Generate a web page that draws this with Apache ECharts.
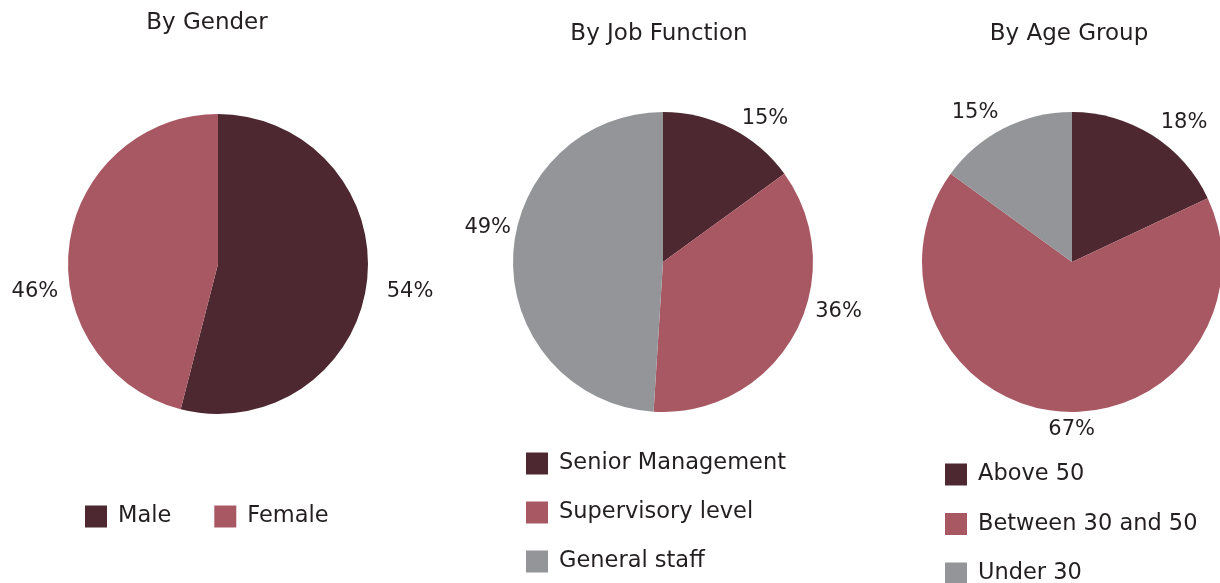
<!DOCTYPE html>
<html>
<head>
<meta charset="utf-8">
<script src="https://cdn.jsdelivr.net/npm/echarts@6/dist/echarts.min.js"></script>
<style>
  html, body { margin: 0; padding: 0; background: #ffffff; }
  #chart { width: 1220px; height: 583px; }
</style>
</head>
<body>
<div id="chart"></div>
<script>
const genderNames = ['Male', 'Female']
const genderValues = [54, 46]

const jobNames = ['Senior Management', 'Supervisory level', 'General staff']
const jobValues = [15, 36, 49]

const ageNames = ['Above 50', 'Between 30 and 50', 'Under 30']
const ageValues = [18, 67, 15]

const colors = ['#4e2830', '#a85862', '#939598']
const font = 'DejaVu Sans'
const textColor = '#231f20'

const chart = echarts.init(document.getElementById('chart'))

const toData = (names, values) => names.map((n, i) => ({
  name: n,
  value: values[i],
  itemStyle: { color: colors[i] }
}))

// small nudges so the percent labels sit where the original put them
const pieSeries = (name, names, values, center, nudges) => ({
  name: name,
  type: 'pie',
  radius: 150,
  center: center,
  startAngle: 90,
  clockwise: true,
  data: toData(names, values),
  label: {
    show: true,
    position: 'outside',
    formatter: '{c}%',
    color: textColor,
    fontFamily: font,
    fontSize: 21,
    overflow: 'none',
    distanceToLabelLine: 5
  },
  labelLine: {
    show: false,
    length: 10,
    length2: 0
  },
  labelLayout: function (params) {
    const n = nudges[params.dataIndex] || [0, 0]
    return { dx: n[0], dy: n[1] }
  },
  itemStyle: { borderWidth: 0 },
  emphasis: { disabled: true },
  animation: false
})

const legendText = {
  color: textColor,
  fontFamily: font,
  fontSize: 22.5,
  lineHeight: 22,
  padding: [0, 0, 0, 6]
}

const titleText = { color: textColor, fontFamily: font, fontSize: 23, fontWeight: 'normal' }

const option = {
  backgroundColor: '#ffffff',
  title: [
    { text: 'By Gender', left: 207, top: 12, textAlign: 'center', padding: 0, textStyle: titleText },
    { text: 'By Job Function', left: 659, top: 23, textAlign: 'center', padding: 0, textStyle: titleText },
    { text: 'By Age Group', left: 1069, top: 23, textAlign: 'center', padding: 0, textStyle: titleText }
  ],
  legend: [
    {
      data: genderNames, orient: 'horizontal', left: 85, top: 505, padding: 0,
      itemWidth: 22, itemHeight: 22, itemGap: 43, icon: 'rect',
      textStyle: legendText, selectedMode: false
    },
    {
      data: jobNames, orient: 'vertical', left: 526, top: 452, padding: 0, height: 130,
      itemWidth: 22, itemHeight: 22, itemGap: 26, icon: 'rect',
      textStyle: legendText, selectedMode: false
    },
    {
      data: ageNames, orient: 'vertical', left: 945, top: 463, padding: 0, height: 130,
      itemWidth: 22, itemHeight: 22, itemGap: 26.5, icon: 'rect',
      textStyle: legendText, selectedMode: false
    }
  ],
  series: [
    pieSeries('By Gender', genderNames, genderValues, [218, 264], [[5, 7], [4, 48]]),
    pieSeries('By Job Function', jobNames, jobValues, [663, 262], [[1, -1], [7, -28], [13, -29]]),
    pieSeries('By Age Group', ageNames, ageValues, [1072, 262], [[-2, -4], [43, 8], [4, -7]])
  ]
}

chart.setOption(option)
</script>
</body>
</html>
